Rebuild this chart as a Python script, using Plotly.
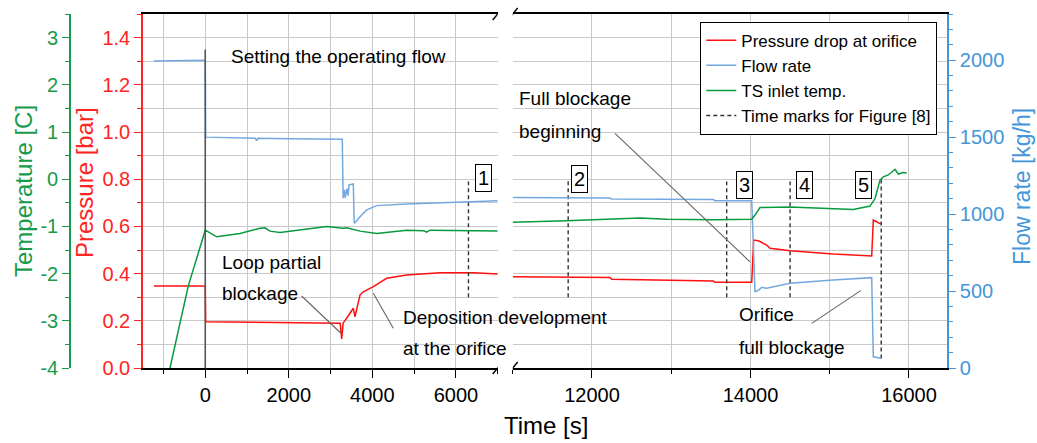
import plotly.graph_objects as go

# ---------------- data ----------------
# Left part of the broken time axis (t < 7000 s)
p_left_t = [-1227, -600, -45, 0, 10, 800, 1600, 2400, 3065, 3230, 3266, 3300, 3400, 3465, 3544, 3584, 3704, 3783, 4023, 4343, 4822, 5619, 6417, 7000]
p_left_v = [0.347, 0.347, 0.347, 0.347, 0.196, 0.195, 0.194, 0.193, 0.192, 0.190, 0.123, 0.190, 0.215, 0.235, 0.253, 0.217, 0.309, 0.323, 0.345, 0.380, 0.394, 0.404, 0.404, 0.398]

f_left_t = [-1227, -600, -40, 0, 10, 600, 1200, 1231, 1260, 2000, 2800, 3280, 3300, 3330, 3350, 3390, 3420, 3440, 3544, 3566, 3620, 3704, 3865, 4023, 4104, 4822, 6417, 7000]
f_left_v = [1995, 2000, 2003, 2000, 1500, 1495, 1492, 1477, 1492, 1490, 1488, 1486, 1103, 1157, 1105, 1165, 1120, 1190, 1196, 940, 955, 983, 1027, 1048, 1055, 1066, 1081, 1087]

T_left_t = [-844, -406, 0, 274, 832, 1310, 1430, 1550, 1789, 2428, 2907, 3304, 3386, 3704, 4104, 4822, 5221, 5300, 5380, 7000]
T_left_v = [-4.0, -2.26, -1.08, -1.22, -1.15, -1.04, -1.03, -1.10, -1.13, -1.05, -1.00, -1.04, -1.03, -1.10, -1.15, -1.08, -1.09, -1.12, -1.08, -1.10]

# Right part of the broken time axis (t > 11000 s)
p_right_t = [11000, 12228, 12249, 13532, 13550, 14016, 14040, 14100, 14205, 14247, 14499, 15046, 15530, 15550, 15647]
p_right_v = [0.387, 0.384, 0.376, 0.369, 0.363, 0.363, 0.542, 0.539, 0.521, 0.507, 0.497, 0.483, 0.475, 0.627, 0.610]

f_right_t = [11000, 11681, 12228, 12249, 12943, 13532, 13550, 14016, 14036, 14057, 14100, 14142, 14205, 14331, 14499, 15046, 15530, 15550, 15647]
f_right_v = [1107, 1106, 1104, 1098, 1096, 1094, 1087, 1087, 800, 496, 505, 524, 518, 533, 550, 572, 587, 73, 63]

T_right_t = [11000, 11681, 12606, 12943, 13532, 14016, 14057, 14120, 14499, 15046, 15298, 15509, 15572, 15635, 15676, 15739, 15802, 15824, 15866, 15929, 15972]
T_right_v = [-0.91, -0.88, -0.82, -0.85, -0.86, -0.85, -0.76, -0.60, -0.59, -0.62, -0.64, -0.57, -0.41, -0.02, 0.05, 0.09, 0.19, 0.21, 0.11, 0.14, 0.13]

# Time marks for Figure [8]
mark_t = [6300, 11700, 13700, 14500, 15650]
mark_top = [0.79, 0.80, 0.79, 0.79, 0.80]
mark_bottom = [0.30, 0.30, 0.30, 0.30, 0.04]
mark_labels = ["1", "2", "3", "4", "5"]
label_t = [6660, 11849, 13931, 14676, 15427]
label_p = [0.805, 0.801, 0.775, 0.775, 0.775]

# Axis ranges and temperature tick labels (plain hyphen minus)
x_left_range = [-1490, 7000]
x_right_range = [11000, 16480]
p_range = [0, 1.5]
T_range = [-4, 3.5]
f_range = [0, 2300]
T_tickvals = [-4, -3, -2, -1, 0, 1, 2, 3]
T_ticktext = ["-4", "-3", "-2", "-1", "0", "1", "2", "3"]

# ---------------- style ----------------
FONT = "Liberation Sans, Arial, sans-serif"
RED = "#ff1010"
RED_AX = "#ff2424"
BLUE = "#74a9df"
BLUE_AX = "#4596d8"
GREEN = "#079a3e"
GREEN_AX = "#189a4c"
GRID = "#c9c9c9"
TICKF = 20

fig = go.Figure()

def add(tx, ty, xa, ya, color, name, show):
    fig.add_trace(go.Scatter(x=tx, y=ty, xaxis=xa, yaxis=ya, mode="lines",
                             line=dict(color=color, width=1.5), name=name,
                             showlegend=show))

add(p_left_t, p_left_v, "x", "y", RED, "Pressure drop at orifice", True)
add(f_left_t, f_left_v, "x", "y2", BLUE, "Flow rate", True)
add(T_left_t, T_left_v, "x", "y3", GREEN, "TS inlet temp.", True)
add(p_right_t, p_right_v, "x2", "y", RED, "Pressure drop at orifice", False)
add(f_right_t, f_right_v, "x2", "y2", BLUE, "Flow rate", False)
add(T_right_t, T_right_v, "x2", "y3", GREEN, "TS inlet temp.", False)

# dashed time marks
def marks(sel, xa, show):
    xs, ys = [], []
    for i in sel:
        xs += [mark_t[i], mark_t[i], None]
        ys += [mark_bottom[i], mark_top[i], None]
    fig.add_trace(go.Scatter(x=xs, y=ys, xaxis=xa, yaxis="y", mode="lines",
                             line=dict(color="#333333", width=1.4, dash="4px,3px"),
                             name="Time marks for Figure [8]", showlegend=show))

marks([0], "x", True)
marks([1, 2, 3, 4], "x2", False)

# ---------------- layout ----------------
W, H = 1037, 443
L, R, T, B = 70, 90, 14, 75
pw = W - L - R
ph = H - T - B
d_left = [(143 - L) / pw, (497.7 - L) / pw]
d_right = [(512.7 - L) / pw, 1.0]

xcommon = dict(showline=True, linecolor="black", linewidth=1.8, mirror=True,
               ticks="outside", ticklen=8, tickwidth=1.4, tickcolor="black",
               dtick=2000, tick0=0, tickformat="d", showgrid=True, gridcolor=GRID,
               gridwidth=1, zeroline=False,
               tickfont=dict(family=FONT, size=TICKF, color="black"),
               minor=dict(dtick=1000, tick0=0, ticks="outside", ticklen=4, tickwidth=1.2,
                          tickcolor="black", showgrid=True, gridcolor=GRID, gridwidth=1))

fig.update_layout(
    width=W, height=H, margin=dict(l=L, r=R, t=T, b=B),
    paper_bgcolor="white", plot_bgcolor="white",
    font=dict(family=FONT, color="black"),
    xaxis=dict(domain=d_left, range=x_left_range, anchor="y", **xcommon),
    xaxis2=dict(domain=d_right, range=x_right_range, anchor="y", **xcommon),
    yaxis=dict(range=p_range, anchor="x", side="left", showline=True, linecolor=RED_AX,
               linewidth=1.6, ticks="outside", ticklen=7, tickwidth=1.4, tickcolor=RED_AX,
               dtick=0.2, tick0=0, tickformat=".1f", showgrid=True, gridcolor=GRID,
               zeroline=False, tickfont=dict(family=FONT, size=TICKF, color=RED_AX),
               minor=dict(dtick=0.1, ticks="outside", ticklen=4, tickcolor=RED_AX,
                          showgrid=True, gridcolor=GRID)),
    yaxis2=dict(range=f_range, overlaying="y", anchor="x2", side="right", showline=True,
                linecolor=BLUE_AX, linewidth=1.6, ticks="outside", ticklen=7, tickwidth=1.4,
                tickcolor=BLUE_AX, dtick=500, tick0=0, showgrid=False, zeroline=False,
                tickfont=dict(family=FONT, size=TICKF, color=BLUE_AX),
                minor=dict(dtick=100, ticks="outside", ticklen=4, tickcolor=BLUE_AX)),
    yaxis3=dict(range=T_range, overlaying="y", anchor="free", position=0, side="left",
                showline=True, linecolor=GREEN_AX, linewidth=1.6, ticks="outside", ticklen=7,
                tickwidth=1.4, tickcolor=GREEN_AX, tickmode="array", tickvals=T_tickvals,
                ticktext=T_ticktext, showgrid=False,
                zeroline=False, tickfont=dict(family=FONT, size=TICKF, color=GREEN_AX),
                minor=dict(dtick=0.5, tick0=0, ticks="outside", ticklen=4, tickcolor=GREEN_AX)),
    legend=dict(x=(937.3 - L) / pw, y=(368 - 21.7) / ph,
                xanchor="right", yanchor="top", bgcolor="white", bordercolor="black",
                borderwidth=1, font=dict(family=FONT, size=17, color="black"),
                traceorder="normal", tracegroupgap=0),
    showlegend=True,
)

shapes = []
# vertical line at t = 0 ("Setting the operating flow")
shapes.append(dict(type="line", xref="x", yref="y", x0=0, x1=0, y0=0, y1=1.35,
                   line=dict(color="#555555", width=1.6)))
# pointer lines for the text labels
pointers = [("x", 2308, 0.305, 3266, 0.144),
            ("x", 4022, 0.317, 4501, 0.168),
            ("x2", 12291, 0.994, 13994, 0.450),
            ("x2", 14773, 0.189, 15391, 0.328)]
for xr, a0, b0, a1, b1 in pointers:
    shapes.append(dict(type="line", xref=xr, yref="y", x0=a0, y0=b0, x1=a1, y1=b1,
                       line=dict(color="#666666", width=1.1)))
# axis-break slashes, top and bottom
for xr, anchor in (("x", x_left_range[1]), ("x2", x_right_range[0])):
    for ya in (0, 1):
        shapes.append(dict(type="line", xref=xr, xsizemode="pixel", xanchor=anchor,
                           x0=-5, x1=5, yref="paper", ysizemode="pixel", yanchor=ya,
                           y0=-6, y1=6, line=dict(color="black", width=1.4)))
fig.update_layout(shapes=shapes)

ann = []
def txt(xr, x, y, s, **kw):
    d = dict(xref=xr, yref="y", x=x, y=y, text=s, showarrow=False, xanchor="left",
             yanchor="middle", font=dict(family=FONT, size=19, color="black"))
    d.update(kw)
    ann.append(d)

txt("x", 569, 1.322, "Setting the operating flow")
txt("x", 354, 0.449, "Loop partial")
txt("x", 354, 0.314, "blockage")
txt("x", 4685, 0.214, "Deposition development")
txt("x", 4685, 0.081, "at the orifice")
txt("x2", 11050, 1.144, "Full blockage")
txt("x2", 11050, 1.002, "beginning")
txt("x2", 13834, 0.225, "Orifice")
txt("x2", 13834, 0.089, "full blockage")

for i, lab in enumerate(mark_labels):
    txt("x" if i == 0 else "x2", label_t[i], label_p[i], lab, xanchor="center",
        bordercolor="black", borderwidth=1, borderpad=2, bgcolor="white",
        font=dict(family=FONT, size=20, color="black"))

def title(xp, yp, s, color, angle, size=24):
    ann.append(dict(xref="paper", yref="paper", x=(xp - L) / pw, y=(H - B - yp) / ph,
                    text=s, showarrow=False, textangle=angle, xanchor="center",
                    yanchor="middle", font=dict(family=FONT, size=size, color=color)))

title(23, 191, "Temperature [C]", GREEN_AX, -90)
title(84, 183, "Pressure [bar]", RED_AX, -90)
title(1022, 187, "Flow rate [kg/h]", BLUE_AX, -90, 23)
title(545.7, 425, "Time [s]", "black", 0)

fig.update_layout(annotations=ann)

fig.write_html("out.html", config={"displayModeBar": False},
               post_script="document.body.style.margin='0px';")
